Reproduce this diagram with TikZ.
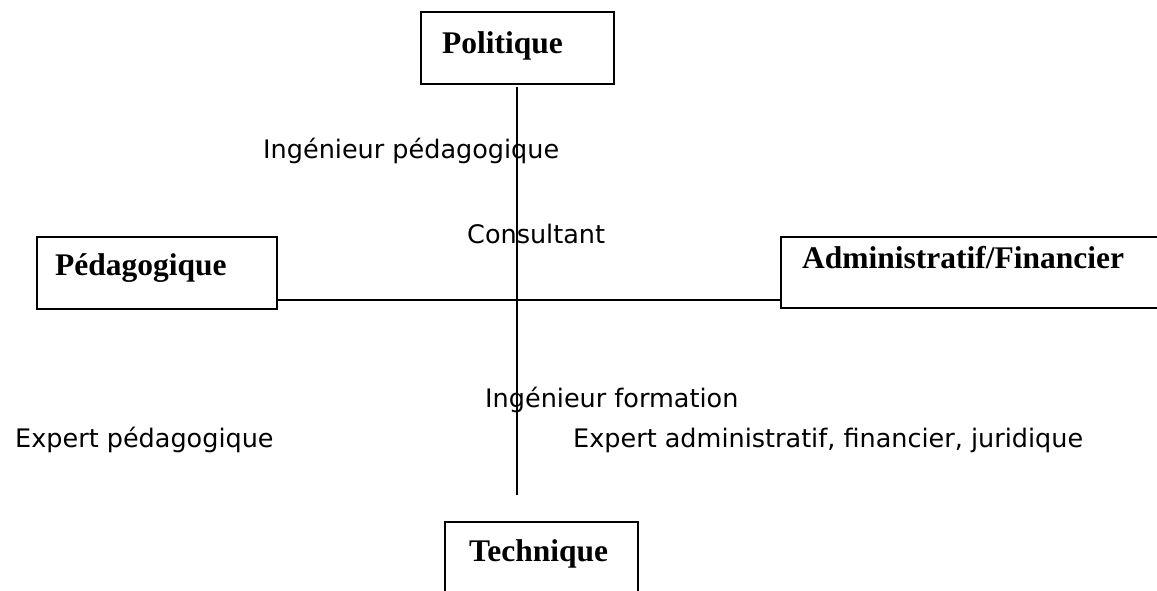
\documentclass[tikz,border=0pt]{standalone}
\usepackage{fontspec}
\setmainfont{Liberation Serif}
\newfontfamily\comicfont{DejaVu Sans}
\begin{document}
\begin{tikzpicture}[x=1pt,y=-1pt,
  boxstyle/.style={draw, line width=2pt, rectangle, inner sep=0pt},
  boxtext/.style={anchor=base west, inner sep=0pt, font=\fontsize{31.5}{34}\selectfont\bfseries},
  roletext/.style={anchor=base west, inner sep=0pt, font=\comicfont\fontsize{25.5}{30}\selectfont},
  axis/.style={line width=1.8pt}]
\useasboundingbox (0,0) rectangle (1157,590);
\clip (0,0) rectangle (1157,590);
% boxes
\node[boxstyle, minimum width=193pt, minimum height=72pt] (pol) at (517.5,48) {};
\node[boxstyle, minimum width=240pt, minimum height=72pt] (ped) at (157,273) {};
\node[boxstyle, minimum width=389pt, minimum height=71pt] (adm) at (975.5,272.5) {};
\node[boxstyle, minimum width=193pt, minimum height=72pt] (tec) at (541.5,558) {};
% box labels
\node[boxtext] (tpol) at (442,53) {Politique};
\node[boxtext] (tped) at (55,275) {Pédagogique};
\node[boxtext] (tadm) at (802,268) {Administratif/Financier};
\node[boxtext] (ttec) at (469,561) {Technique};
% axes
\coordinate (vt) at (517,87);
\coordinate (vb) at (517,495);
\draw[axis] (vt) -- (vb);
\draw[axis] (ped.south east) ++(0,-10) coordinate (hl) -- (hl -| adm.west);
% role labels
\node[roletext] (ip) at (263,158) {Ingénieur pédagogique};
\node[roletext] (co) at (467,243) {Consultant};
\node[roletext] (if) at (485,407) {Ingénieur formation};
\node[roletext] (ep) at (15,447) {Expert pédagogique};
\node[roletext] (ea) at (573,447) {Expert administratif, financier, juridique};
\end{tikzpicture}
\end{document}
